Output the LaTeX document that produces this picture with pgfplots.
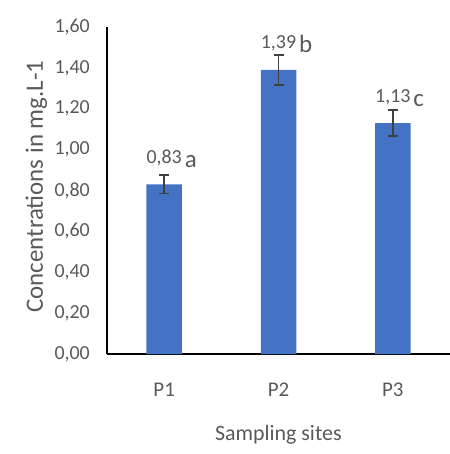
\documentclass[border=0pt]{standalone}
\usepackage{pgfplots}
\pgfplotsset{compat=1.18}
\usepackage{pgfplotstable}
\usepackage{fontspec}
\setmainfont{Carlito}
\definecolor{barblue}{HTML}{4472C4}
\definecolor{txtgray}{HTML}{595959}
\definecolor{errgray}{HTML}{404040}
\pgfplotstableread{
x y err letter
0 0.83 0.045 a
1 1.39 0.072 b
2 1.13 0.062 c
}\datatable
\begin{document}
\begin{tikzpicture}
\useasboundingbox (0,0) rectangle (450bp,454bp);
\begin{axis}[
  at={(107bp,100bp)}, anchor=south west,
  scale only axis, width=343bp, height=327bp,
  xmin=-0.5, xmax=2.5, ymin=0, ymax=1.6,
  axis lines=left,
  axis line style={-, line width=1.5bp, black},
  major tick length=0pt,
  xtick={0,1,2}, xticklabels={P1,P2,P3},
  ytick={0,0.2,0.4,0.6,0.8,1.0,1.2,1.4,1.6},
  /pgf/number format/.cd, use comma, fixed, fixed zerofill, precision=2, assume math mode=true,
  /pgfplots/.cd,
  tick label style={font=\fontsize{20}{24}\selectfont, text=txtgray},
  yticklabel style={anchor=east, inner sep=0pt, xshift=-17bp},
  xticklabel style={anchor=base, inner sep=0pt, yshift=-42bp, font=\fontsize{21}{24}\selectfont},
  xlabel={Sampling sites},
  ylabel={Concentrations in mg.L-1},
  xlabel style={at={(axis description cs:0.4995,-0.263)}, anchor=base, inner sep=0pt, font=\fontsize{22}{26}\selectfont, text=txtgray},
  ylabel style={at={(axis description cs:-0.1866,0.512)}, anchor=base, inner sep=0pt, rotate=0, font=\fontsize{25}{30}\selectfont, text=txtgray},
  clip=false,
]
\addplot[ybar, bar width=35.5bp, fill=barblue, draw=none,
  error bars/.cd, y dir=both, y explicit,
  error bar style={line width=1.8bp, errgray},
  error mark options={rotate=90, mark size=5bp, line width=1.8bp, errgray},
] table[x=x, y=y, y error=err] {\datatable};
\addplot[ybar, bar width=35.5bp, draw=none, fill=none,
  point meta=explicit symbolic,
  visualization depends on={y \as \yval},
  nodes near coords={\pgfmathprintnumber{\yval}\rlap{\hspace{3bp}\raisebox{-4bp}{\fontsize{25}{30}\selectfont\pgfplotspointmeta}}},
  every node near coord/.append style={anchor=base, inner sep=0pt, yshift=21bp, text=txtgray, font=\fontsize{20}{24}\selectfont},
] table[x=x, y=y, meta=letter] {\datatable};
\end{axis}
\end{tikzpicture}
\end{document}
